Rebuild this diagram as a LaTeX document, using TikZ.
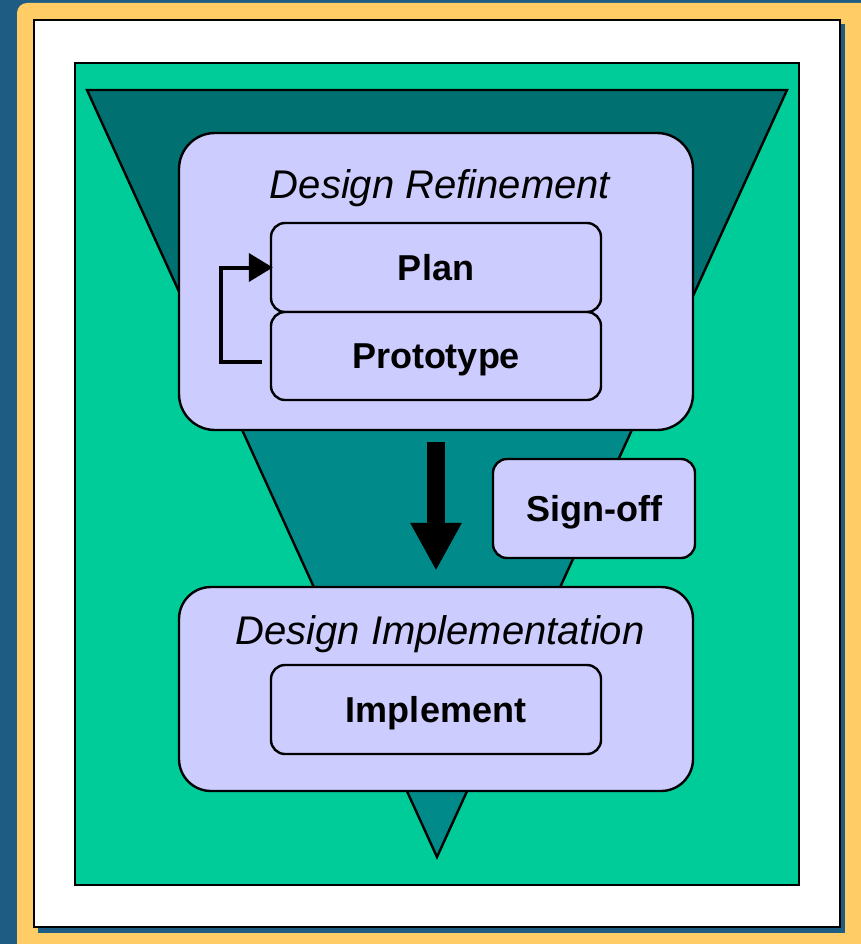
\documentclass[tikz,border=0pt]{standalone}
\usepackage{fontspec}
\setmainfont{Liberation Sans}
\usetikzlibrary{arrows.meta}
\definecolor{bgblue}{RGB}{30,92,132}
\definecolor{frameorange}{RGB}{255,204,102}
\definecolor{seagreen}{RGB}{0,204,153}
\definecolor{darkteal}{RGB}{0,112,112}
\definecolor{midteal}{RGB}{0,138,138}
\definecolor{lavender}{RGB}{204,204,255}
\tikzset{
  outline/.style={draw=black, line width=2.4pt},
  bigbox/.style={outline, fill=lavender, rounded corners=36pt, minimum width=514pt, inner sep=0pt},
  smallbox/.style={outline, fill=lavender, rounded corners=14pt, minimum width=330pt, minimum height=89pt, inner sep=0pt,
    font=\fontsize{36pt}{40pt}\selectfont\bfseries, text height=25.8pt, text depth=0pt},
  titletext/.style={font=\fontsize{40pt}{46pt}\selectfont\itshape, anchor=base, inner sep=0pt},
  bigarrow/.style={line width=18pt, -{Triangle[length=48pt,width=48pt]}},
  loopback/.style={line width=4pt, -{Triangle[length=24pt,width=28pt]}},
}
\begin{document}
\begin{tikzpicture}[x=1pt,y=-1pt]
\useasboundingbox (0,0) rectangle (861,944);
\clip (0,0) rectangle (861,944);
\fill[bgblue] (0,0) rectangle (861,944);
\fill[frameorange, rounded corners=10pt] (17,3) rectangle (880,965);
\fill[bgblue] (38,24) rectangle (845,933);
\draw[outline, fill=white] (34,20) rectangle (840,927);
\draw[outline, fill=seagreen] (75,63) rectangle (799,885);
% funnel
\fill[midteal] (87,90) -- (787,90) -- (437,857) -- cycle;
\begin{scope}
  \clip (87,90) -- (787,90) -- (437,857) -- cycle;
  \fill[darkteal] (0,80) rectangle (861,430);
\end{scope}
\draw[outline, line join=miter] (87,90) -- (787,90) -- (437,857) -- cycle;
% boxes
\node[bigbox, minimum height=297pt] (DR) at (436,281.5) {};
\node[titletext] (DRt) at (440,198) {Design Refinement};
\node[smallbox] (Plan) at (436,267.5) {Plan};
\node[smallbox, minimum height=88pt] (Proto) at (436,356) {Prototype};
\node[bigbox, minimum height=204pt, rounded corners=32pt] (DI) at (436,689) {};
\node[titletext] (DIt) at (440,644) {Design Implementation};
\node[smallbox] (Impl) at (436,709.5) {Implement};
\node[smallbox, minimum width=202pt, minimum height=99pt] (Sign) at (594,508.5) {Sign-off};
% arrows
\draw[bigarrow, shorten <=11pt, shorten >=15pt] (DR.south) -- (DI.north);
\draw[loopback] (Proto.west) ++(-8,6) -- ++(-41,0) |- ([xshift=3pt]Plan.west);
\end{tikzpicture}
\end{document}
